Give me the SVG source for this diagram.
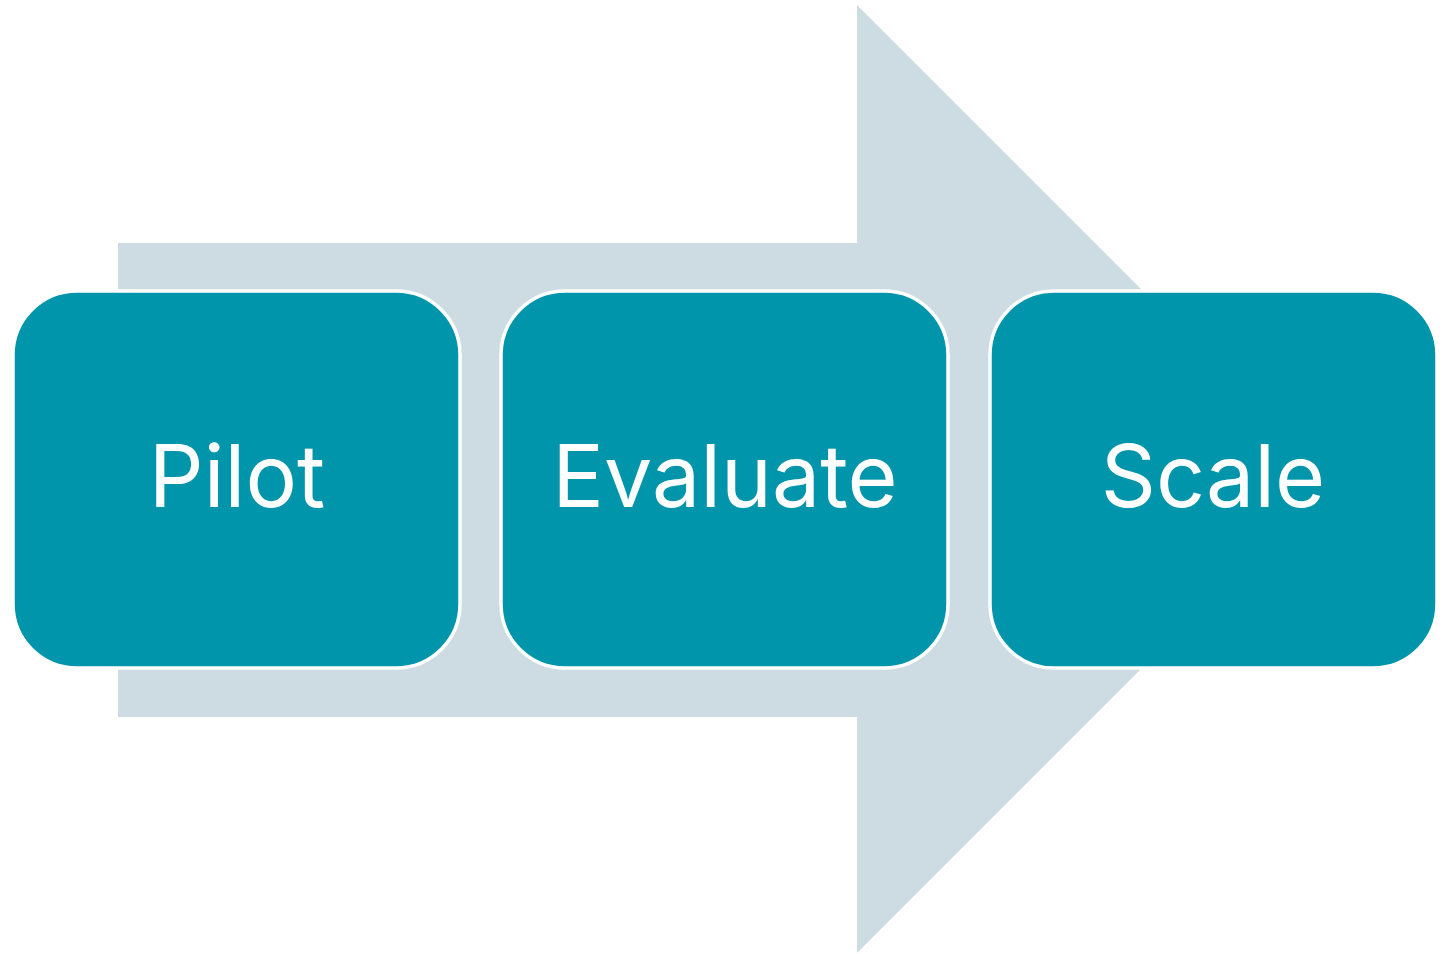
<svg xmlns="http://www.w3.org/2000/svg" width="1450" height="954" viewBox="0 0 1450 954">
<style>
.box{fill:#0095AB;stroke:#FFFFFF;stroke-width:3.5}
.lbl{font-family:Inter,"Open Sans","Liberation Sans",sans-serif;font-size:86px;fill:#FFFFFF;text-anchor:middle}
</style>
<rect width="1450" height="954" fill="#FFFFFF"/>
<g id="connectors">
<path id="arrow" d="M118,243 L857,243 L857,5 L1331,479 L857,953 L857,717 L118,717 Z" fill="#CCDCE2"/>
</g>
<g id="pilot">
<rect class="box" x="13" y="291" width="447" height="377" rx="64" ry="64"/>
<text class="lbl" x="237" y="507">Pilot</text>
</g>
<g id="evaluate">
<rect class="box" x="501" y="291" width="447" height="377" rx="64" ry="64"/>
<text class="lbl" x="725" y="507">Evaluate</text>
</g>
<g id="scale">
<rect class="box" x="990" y="291" width="447" height="377" rx="64" ry="64"/>
<text class="lbl" x="1213" y="507">Scale</text>
</g>
</svg>
